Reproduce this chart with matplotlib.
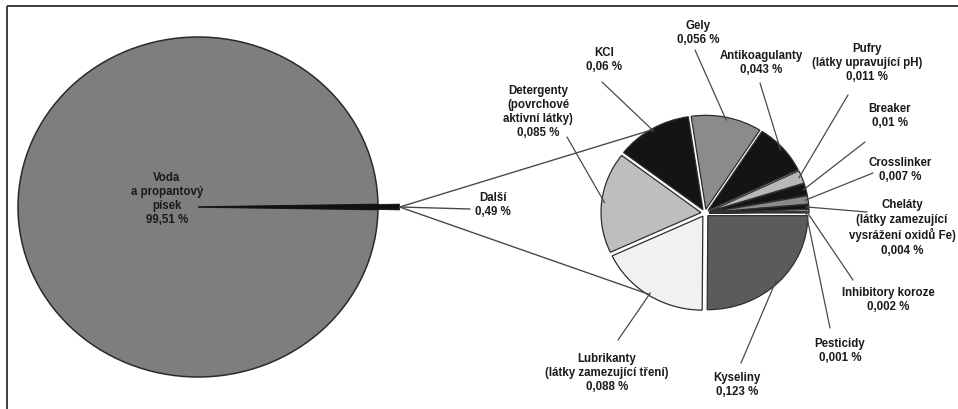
import matplotlib
matplotlib.use("Agg")
import numpy as np
import matplotlib.pyplot as plt
from matplotlib.patches import ConnectionPatch

W, H = 958, 409

# Overall composition of the fracturing fluid
main_labels = ["Voda\na propantový\npísek", "Další"]
main_values = [99.51, 0.49]

# Breakdown of the "Další" share
detail_labels = [
    "Kyseliny",
    "Lubrikanty\n(látky zamezující tření)",
    "Detergenty\n(povrchové\naktivní látky)",
    "KCl",
    "Gely",
    "Antikoagulanty",
    "Pufry\n(látky upravující pH)",
    "Breaker",
    "Crosslinker",
    "Cheláty\n(látky zamezující\nvysrážení oxidů Fe)",
    "Inhibitory koroze",
    "Pesticidy",
]
detail_values = [0.123, 0.088, 0.085, 0.06, 0.056, 0.043,
                 0.011, 0.01, 0.007, 0.004, 0.002, 0.001]

main_colors = ["#7e7e7e", "#111111"]
detail_colors = ["#5b5b5b", "#f1f1f1", "#bebebe", "#141414", "#8b8b8b", "#141414",
                 "#b8b8b8", "#141414", "#8b8b8b", "#141414", "#9d9d9d", "#cfcfcf"]

FONT = ["Liberation Sans Narrow", "Liberation Sans", "DejaVu Sans"]
TXT = dict(family=FONT, fontweight="bold", fontsize=8.3, color="#1a1a1a",
           linespacing=1.25, multialignment="center")
LINE = "#4a4a4a"


def fmt(v):
    return f"{v:g}".replace(".", ",") + " %"


fig = plt.figure(figsize=(W / 100, H / 100), dpi=100)


def pie_axes(cx, cy, rx, ry, ext):
    ax = fig.add_axes([(cx - ext * rx) / W, (H - cy - ext * ry) / H,
                       2 * ext * rx / W, 2 * ext * ry / H])
    return ax


# overlay in pixel coordinates for the frame, labels and leaders
ov = fig.add_axes([0, 0, 1, 1], zorder=5)
ov.set_xlim(0, W)
ov.set_ylim(H, 0)
ov.axis("off")
ov.patch.set_alpha(0)

# frame
ov.plot([7, W], [5.5, 5.5], color="#3c3c3c", lw=1.4, solid_capstyle="butt")
ov.plot([7, 7], [5.5, H], color="#3c3c3c", lw=1.4, solid_capstyle="butt")

# ---- big pie ----
EXT1 = 1.3
ax1 = pie_axes(198, 207, 180, 170, EXT1)
half = main_values[1] / sum(main_values) * 180
w1, _ = ax1.pie(main_values, colors=main_colors, startangle=half,
                counterclock=True,
                wedgeprops=dict(edgecolor="#2a2a2a", linewidth=1.1))
w1[1].set_radius(1.12)
w1[1].set_edgecolor("#111111")
w1[1].set_linewidth(0.5)
ax1.set_aspect("auto")
ax1.set_xlim(-EXT1, EXT1)
ax1.set_ylim(-EXT1, EXT1)
ax1.axis("off")

ov.text(167, 199, main_labels[0] + "\n" + fmt(main_values[0]),
        ha="center", va="center", **TXT)

# tip of the "Další" wedge
tip = (1.12, 0.0)
ov.text(475, 205, main_labels[1] + "\n" + fmt(main_values[1]),
        ha="left", va="center", **TXT)
fig.add_artist(ConnectionPatch(xyA=tip, coordsA=ax1.transData,
                               xyB=(470, 209), coordsB=ov.transData,
                               color=LINE, lw=1.0, zorder=6))

# ---- detail pie ----
EXT2 = 1.5
ax2 = pie_axes(705, 213, 100, 94, EXT2)
w2, _ = ax2.pie(detail_values, colors=detail_colors, startangle=0,
                counterclock=False, explode=[0.04] * len(detail_values),
                wedgeprops=dict(edgecolor="#2e2e2e", linewidth=0.9))
ax2.set_aspect("auto")
ax2.set_xlim(-EXT2, EXT2)
ax2.set_ylim(-EXT2, EXT2)
ax2.axis("off")


def rim_point(w, r=1.0):
    mid = np.deg2rad((w.theta1 + w.theta2) / 2)
    cx, cy = w.center
    return (cx + r * np.cos(mid), cy + r * np.sin(mid))


# lines linking the "Další" wedge with the detail pie (KCl and Lubrikanty rims)
for idx in (3, 1):
    fig.add_artist(ConnectionPatch(xyA=tip, coordsA=ax1.transData,
                                   xyB=rim_point(w2[idx], 0.99), coordsB=ax2.transData,
                                   color=LINE, lw=1.0, zorder=6))

# label text position (px), alignment, leader start (px)
label_layout = [
    ((737, 385), "center", (741, 363)),   # Kyseliny
    ((607, 373), "center", (618, 340)),   # Lubrikanty
    ((538, 112), "center", (567, 137)),   # Detergenty
    ((586, 60), "left", (602, 82)),       # KCl
    ((677, 33), "left", (695, 50)),       # Gely
    ((761, 63), "center", (760, 83)),     # Antikoagulanty
    ((867, 63), "center", (848, 95)),     # Pufry
    ((890, 116), "center", (865, 142)),   # Breaker
    ((900, 170), "center", (873, 173)),   # Crosslinker
    ((902, 228), "center", (867, 212)),   # Cheláty
    ((888, 300), "center", (853, 280)),   # Inhibitory koroze
    ((840, 351), "center", (830, 328)),   # Pesticidy
]

for lab, val, w, (pos, ha, start) in zip(detail_labels, detail_values, w2, label_layout):
    ov.text(pos[0], pos[1], lab + "\n" + fmt(val), ha=ha, va="center", **TXT)
    fig.add_artist(ConnectionPatch(xyA=start, coordsA=ov.transData,
                                   xyB=rim_point(w, 0.97), coordsB=ax2.transData,
                                   color=LINE, lw=0.9, zorder=6))

fig.savefig("out.png", dpi=100)
